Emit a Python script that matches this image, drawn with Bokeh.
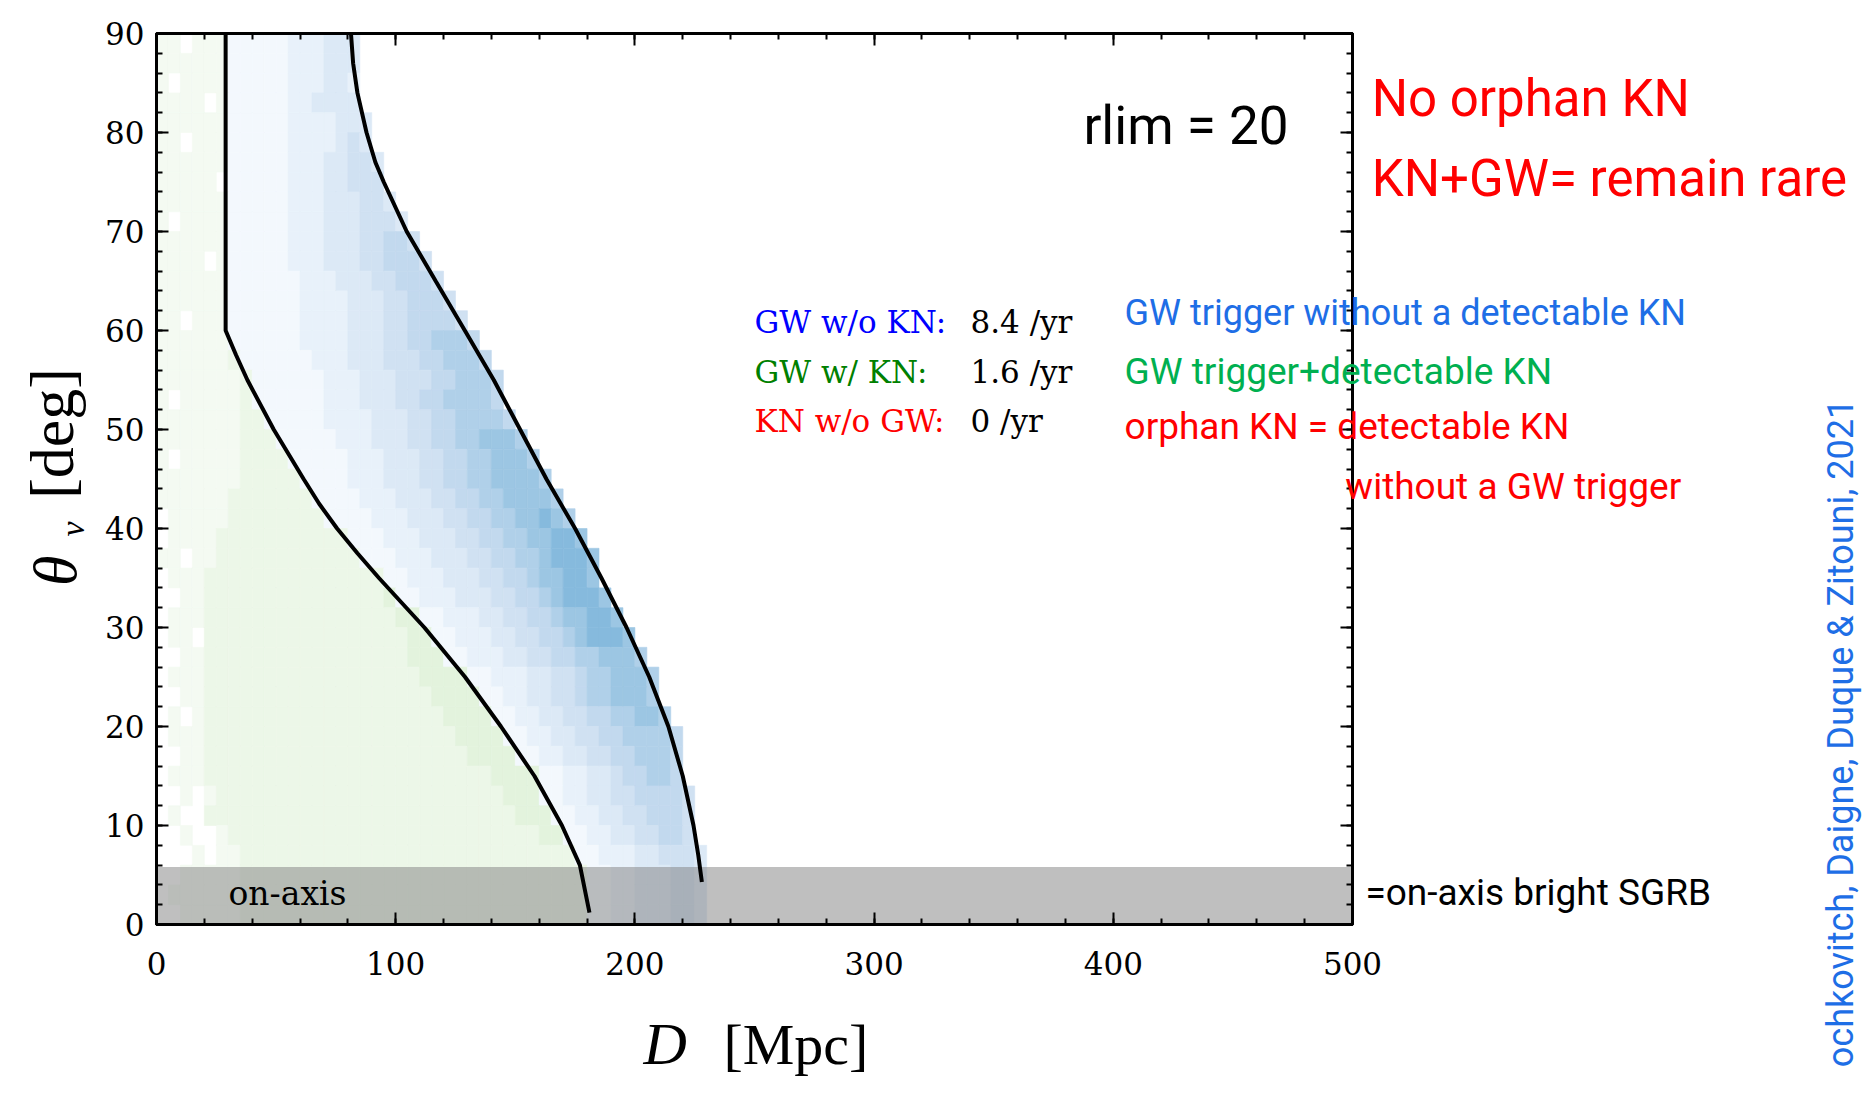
from math import pi

from bokeh.embed import file_html
from bokeh.models import ColumnDataSource, FixedTicker, GridBox, Label, LinearAxis, Range1d
from bokeh.plotting import figure
from bokeh.resources import INLINE

# ---------------------------------------------------------------------------
# Data
# ---------------------------------------------------------------------------
# Distance bin width of the 2D histogram [Mpc] and viewing-angle bin width [deg]
D_BIN = 5
THETA_BIN = 2

# Lower edges of the viewing-angle rows, top row first
THETA_ROWS = [88, 86, 84, 82, 80, 78, 76, 74, 72, 70, 68, 66, 64, 62, 60,
              58, 56, 54, 52, 50, 48, 46, 44, 42, 40, 38, 36, 34, 32, 30,
              28, 26, 24, 22, 20, 18, 16, 14, 12, 10, 8, 6, 4, 2, 0]

# Events with a detectable kilonova (GW + KN), one character per distance bin
# starting at D = 0: '.' empty, a/b/c increasing counts
KN_ROWS = [
    "aa.aaa", "aaaaaa", "a.aaaa", "aaaa.a", "aaaaaa", "aa.aaa", "aaaaaa",
    "aaaaa.", "aaaaaa", "a.aaaa", "aaaaaa", "aaaa.a", "aaaaaa", "aaaaaa",
    "aa.aaa", "aaaaaa", "aaaaaab", "aaaaaaab", "a.aaaaab", "aaaaaaabb",
    "aaaaaaabbb", "a.aaaaabbbb", "aaaaaaabbbbb", "aaaaaabbbbbbb",
    ".aaaaabbbbbbbb",
    ".aaaa" "bbbbbbbbbbb",
    "aa.aa" "bbbbbbbbbbbb",
    ".aaa" "bbbbbbbbbb" "bbbbb",
    "..aa" "bbbbbbbbbb" "bbbbb" "c",
    ".aaa" "bbbbbbbbbb" "bbbbbb" "cc",
    ".aa." "bbbbbbbbbb" "bbbbbbb" "cc",
    "..aa" "bbbbbbbbbb" "bbbbbbb" "ccc",
    ".aaa" "bbbbbbbbbb" "bbbbbbbb" "cccc",
    "..aa" "bbbbbbbbbb" "bbbbbbbbb" "cccc",
    ".a.a" "bbbbbbbbbb" "bbbbbbbbbb" "cccc",
    ".aaa" "bbbbbbbbbb" "bbbbbbbbbb" "b" "cccc",
    "..aa" "bbbbbbbbbb" "bbbbbbbbbb" "bb" "cccc",
    ".aaa" "bbbbbbbbbb" "bbbbbbbbbb" "bbbb" "cccc",
    "..a.a" "bbbbbbbbbb" "bbbbbbbbbb" "bbbb" "ccc",
    ".a.." "bbbbbbbbbb" "bbbbbbbbbb" "bbbbbb" "ccc",
    "..a..a" "bbbbbbbbbb" "bbbbbbbbbb" "bbbbbb" "cc",
    "...a.aa" "bbbbbbbbbb" "bbbbbbbbbb" "bbbbbbbb",
    "..aaaaa" "bbbbbbbbbb" "bbbbbbbbbb" "bbbbbbbbb",
    ".aaaaaa" "bbbbbbbbbb" "bbbbbbbbbb" "bbbbbbbbb",
    "..aaaaa" "bbbbbbbbbb" "bbbbbbbbbb" "bbbbbbbbb",
]

# GW triggers without a detectable kilonova, continuing right after KN_ROWS:
# '1' (few) ... '8' (many)
GW_ROWS = [
    "11111222333", "11111222333", "11111222332", "11111223333",
    "111112222333", "111112222343", "1111122233443", "1111122233444",
    "11111222333443", "111112223334443", "1111122233344554",
    "11111222333445554", "111111222333445554", "1111112222333445554",
    "11111122223334455554", "111111222233344556665",
    "111111222333444556665", "111111222333444556665",
    "111111222333445566665", "111112222333445566665",
    "111112223334455667776", "111112223334455667776",
    "111122233344556677776", "111122233344556677776",
    "111122233344556677876", "11122233344556677887",
    "11122233344556678887", "112223334455677887", "112223334455678887",
    "11222334455677887", "11222334455678887", "11222334455667776",
    "1122233445667776", "112233445667776", "112233445566776",
    "112233445566665", "11223344556665", "112233455665", "1122334455554",
    "112233445554", "11223344554", "11222334443", "1122333443",
    "1122333443", "1122333443",
]

COUNT_COLORS = {
    "a": "#f4faf2", "b": "#ecf7e8", "c": "#e3f3dd",
    "1": "#f3f8fd", "2": "#e8f1fa", "3": "#dce9f6", "4": "#d0e1f2",
    "5": "#c2d9ee", "6": "#b0d0e9", "7": "#9cc6e3", "8": "#86badd",
}

# Detectability limits: KN detectable left of the first curve,
# GW detectable left of the second curve
KN_LIMIT_D = [28.9, 28.9, 33.3, 38, 49, 61.5, 68, 75.5, 84, 93, 112, 129, 144,
              158, 169.5, 177, 181]
KN_LIMIT_THETA = [90, 60, 57.5, 55, 50, 45, 42.5, 40, 37.5, 35, 30, 25, 20,
                  15, 10, 6, 1.2]

GW_LIMIT_D = [81.3, 82.2, 84, 87.8, 91.5, 95, 104.6, 116.7, 128.9, 141, 152,
              163, 175, 186, 196.5, 206, 214, 220, 224.5, 226.5, 228]
GW_LIMIT_THETA = [90, 87, 84, 80, 77, 75, 70, 65, 60, 55, 50,
                  45, 40, 35, 30, 25, 20, 15, 10, 7, 4.3]

# Jet core: on-axis events
ON_AXIS_MAX = 5.8

RATE_LABELS = ["GW w/o KN:", "GW w/ KN:", "KN w/o GW:"]
RATE_VALUES = ["8.4 /yr", "1.6 /yr", "0 /yr"]
RATE_COLORS = ["#0000ff", "#008000", "#ff0000"]

X_TICKS = [0, 100, 200, 300, 400, 500]
Y_TICKS = [0, 10, 20, 30, 40, 50, 60, 70, 80, 90]

# ---------------------------------------------------------------------------
# Page geometry (pixels)
# ---------------------------------------------------------------------------
W, H = 1864, 1096
FRAME_L, FRAME_R, FRAME_T, FRAME_B = 156, 1352, 33, 924
D_MAX, THETA_MAX = 500, 90

SERIF = "DejaVu Serif"
LABEL_SERIF = "Liberation Serif"
SANS = "Roboto"

# ---------------------------------------------------------------------------
# Main plot
# ---------------------------------------------------------------------------
p = figure(width=W, height=H, x_range=Range1d(0, D_MAX), y_range=Range1d(0, THETA_MAX),
           output_backend="svg", toolbar_location=None,
           min_border_left=FRAME_L, min_border_right=W - FRAME_R,
           min_border_top=FRAME_T, min_border_bottom=H - FRAME_B,
           background_fill_color="white", border_fill_color="white")
p.frame_align = False
p.grid.visible = False
p.outline_line_color = "black"
p.outline_line_width = 3

x_ticker = FixedTicker(ticks=X_TICKS, minor_ticks=list(range(0, D_MAX + 1, 20)))
y_ticker = FixedTicker(ticks=Y_TICKS, minor_ticks=list(range(0, THETA_MAX + 1, 2)))


def style_axis(ax, labelled):
    ax.axis_line_width = 3
    ax.axis_line_color = "black"
    ax.major_tick_in = 12
    ax.major_tick_out = 0
    ax.minor_tick_in = 6
    ax.minor_tick_out = 0
    ax.major_tick_line_width = 2
    ax.minor_tick_line_width = 2
    ax.major_tick_line_color = "black"
    ax.minor_tick_line_color = "black"
    if labelled:
        ax.major_label_text_font = SERIF
        ax.major_label_text_font_size = "31px"
        ax.major_label_text_color = "black"
    else:
        ax.major_label_text_color = None
        ax.major_label_text_font_size = "0px"


p.xaxis.ticker = x_ticker
p.yaxis.ticker = y_ticker
style_axis(p.xaxis[0], True)
style_axis(p.yaxis[0], True)
p.xaxis.major_label_standoff = 27
p.yaxis.major_label_standoff = 12

top_axis = LinearAxis(ticker=x_ticker)
right_axis = LinearAxis(ticker=y_ticker)
style_axis(top_axis, False)
style_axis(right_axis, False)
p.add_layout(top_axis, "above")
p.add_layout(right_axis, "right")

# 2D histogram cells
cells = dict(left=[], right=[], bottom=[], top=[], color=[])
for th0, kn, gw in zip(THETA_ROWS, KN_ROWS, GW_ROWS):
    for i, ch in enumerate(kn + gw):
        if ch == ".":
            continue
        cells["left"].append(i * D_BIN)
        cells["right"].append((i + 1) * D_BIN)
        cells["bottom"].append(th0)
        cells["top"].append(th0 + THETA_BIN)
        cells["color"].append(COUNT_COLORS[ch])
p.quad(left="left", right="right", bottom="bottom", top="top",
       fill_color="color", line_color="color", line_width=0.6,
       source=ColumnDataSource(cells))

# On-axis band
p.quad(left=[0], right=[D_MAX], bottom=[0], top=[ON_AXIS_MAX],
       fill_color="#808080", fill_alpha=0.5, line_color=None)

# Detection limits
p.line(KN_LIMIT_D, KN_LIMIT_THETA, line_color="black", line_width=4)
p.line(GW_LIMIT_D, GW_LIMIT_THETA, line_color="black", line_width=4)

# ---------------------------------------------------------------------------
# Transparent overlay spanning the whole page, sharing the data coordinates,
# for the texts that sit outside the plotting frame
# ---------------------------------------------------------------------------
px_per_d = (FRAME_R - FRAME_L) / D_MAX
px_per_theta = (FRAME_B - FRAME_T) / THETA_MAX
ov = figure(width=W, height=H,
            x_range=Range1d(-FRAME_L / px_per_d, (W - FRAME_L) / px_per_d),
            y_range=Range1d(-(H - FRAME_B) / px_per_theta, FRAME_B / px_per_theta),
            output_backend="svg", toolbar_location=None,
            x_axis_type=None, y_axis_type=None, min_border=0,
            background_fill_color=None, border_fill_color=None,
            outline_line_color=None)
ov.frame_align = False
ov.grid.visible = False


def add_label(target, x, y, text, font, size, color="black", style="normal",
              align="left", angle=0.0):
    target.add_layout(Label(x=x, y=y, text=text, text_font=font,
                            text_font_size=size, text_color=color,
                            text_font_style=style, text_align=align,
                            text_baseline="alphabetic", angle=angle))


# Inside the frame
add_label(p, 30.1, 3.1, "on-axis", SERIF, "33px")
add_label(p, 387.5, 80.7, "rlim = 20", SANS, "53px")
for k, (lab, val, col) in enumerate(zip(RATE_LABELS, RATE_VALUES, RATE_COLORS)):
    base = 60.85 - 5.0 * k
    add_label(p, 250.0, base, lab, SERIF, "31px", color=col)
    add_label(p, 340.3, base, val, SERIF, "31px")

# Axis titles
add_label(ov, 203.6, -12.1, "D", LABEL_SERIF, "60px", style="italic")
add_label(ov, 237.0, -12.1, "[Mpc]", LABEL_SERIF, "58px")
add_label(ov, -42.6, 34.2, "θ", LABEL_SERIF, "62px", style="italic", angle=pi / 2)
add_label(ov, -35.1, 39.2, "ν", LABEL_SERIF, "34px", style="italic", angle=pi / 2)
add_label(ov, -43.5, 43.0, "[deg]", LABEL_SERIF, "62px", angle=pi / 2)

# Annotations to the right
RED = "#ff0000"
BLUE = "#1e6ee6"
GREEN = "#00b050"
add_label(ov, 508.0, 83.4, "No orphan KN", SANS, "51px", color=RED)
add_label(ov, 508.0, 75.4, "KN+GW= remain rare", SANS, "51px", color=RED)
add_label(ov, 404.7, 61.8, "GW trigger without a detectable KN", SANS, "36px", color=BLUE)
add_label(ov, 404.7, 55.9, "GW trigger+detectable KN", SANS, "37px", color=GREEN)
add_label(ov, 404.7, 50.3, "orphan KN = detectable KN", SANS, "37px", color=RED)
add_label(ov, 497.0, 44.25, "without a GW trigger", SANS, "37px", color=RED)
add_label(ov, 505.4, 3.2, "=on-axis bright SGRB", SANS, "37px")
add_label(ov, 704.4, 53.1, "ochkovitch, Daigne, Duque & Zitouni, 2021", SANS, "36px",
          color=BLUE, align="right", angle=pi / 2)

page = GridBox(children=[(p, 0, 0), (ov, 0, 0)])
open("out.html", "w").write(file_html(page, INLINE))
